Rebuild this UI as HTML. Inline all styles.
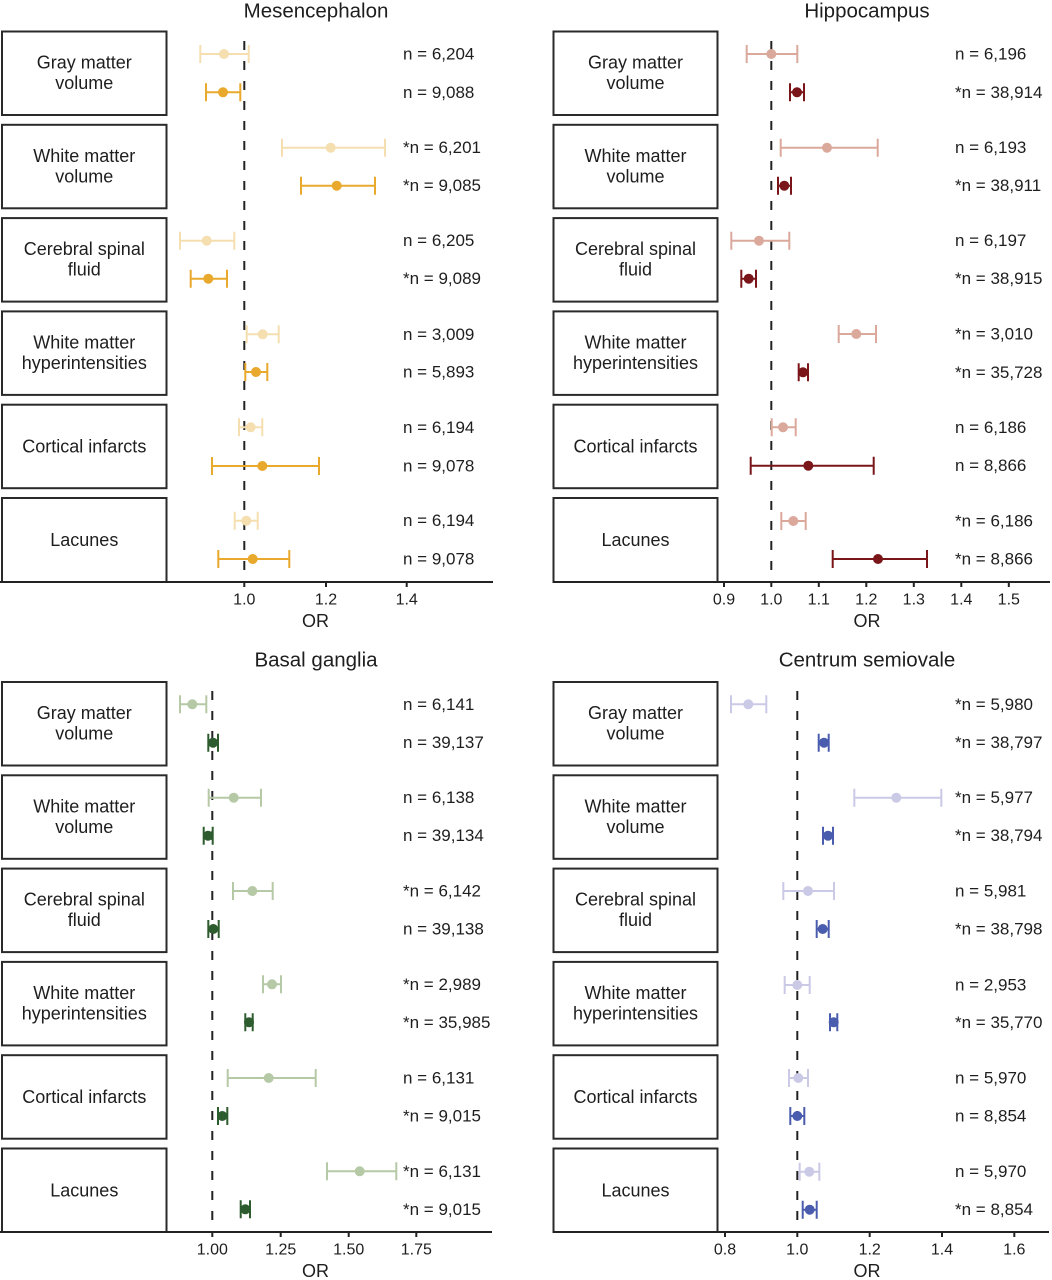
<!DOCTYPE html>
<html>
<head>
<meta charset="utf-8">
<style>
html,body{margin:0;padding:0;background:#fff;}
svg{display:block;}
text{font-family:"Liberation Sans",Arial,sans-serif;fill:#1e1e1e;}
.bl{font-size:18px;text-anchor:middle;}
.nl{font-size:17px;}
.tt{font-size:20.5px;text-anchor:middle;}
.tk{font-size:16px;text-anchor:middle;}
.or{font-size:18px;text-anchor:middle;}
</style>
</head>
<body>
<svg width="1052" height="1280" viewBox="0 0 1052 1280" xmlns="http://www.w3.org/2000/svg">
<rect width="1052" height="1280" fill="#fff"/>

<!-- Titles -->
<text class="tt" x="316" y="11" dominant-baseline="central">Mesencephalon</text>
<text class="tt" x="867" y="11" dominant-baseline="central">Hippocampus</text>
<text class="tt" x="316" y="660" dominant-baseline="central">Basal ganglia</text>
<text class="tt" x="867" y="660" dominant-baseline="central">Centrum semiovale</text>

<!-- Boxes -->
<g fill="none" stroke="#2a2a2a" stroke-width="2">
<rect x="2" y="31.5" width="164.5" height="83.5"/>
<rect x="2" y="124.8" width="164.5" height="83.5"/>
<rect x="2" y="218.1" width="164.5" height="83.5"/>
<rect x="2" y="311.4" width="164.5" height="83.5"/>
<rect x="2" y="404.7" width="164.5" height="83.5"/>
<rect x="2" y="498" width="164.5" height="84"/>
<rect x="553.5" y="31.5" width="164" height="83.5"/>
<rect x="553.5" y="124.8" width="164" height="83.5"/>
<rect x="553.5" y="218.1" width="164" height="83.5"/>
<rect x="553.5" y="311.4" width="164" height="83.5"/>
<rect x="553.5" y="404.7" width="164" height="83.5"/>
<rect x="553.5" y="498" width="164" height="84"/>
<rect x="2" y="682" width="164.5" height="83.5"/>
<rect x="2" y="775.3" width="164.5" height="83.5"/>
<rect x="2" y="868.6" width="164.5" height="83.5"/>
<rect x="2" y="961.9" width="164.5" height="83.5"/>
<rect x="2" y="1055.2" width="164.5" height="83.5"/>
<rect x="2" y="1148.5" width="164.5" height="83.5"/>
<rect x="553.5" y="682" width="164" height="83.5"/>
<rect x="553.5" y="775.3" width="164" height="83.5"/>
<rect x="553.5" y="868.6" width="164" height="83.5"/>
<rect x="553.5" y="961.9" width="164" height="83.5"/>
<rect x="553.5" y="1055.2" width="164" height="83.5"/>
<rect x="553.5" y="1148.5" width="164" height="83.5"/>
</g>

<!-- Box labels -->
<g class="bl">
<text class="bl" x="84.3" y="62.5" dominant-baseline="central">Gray matter</text>
<text class="bl" x="84.3" y="83" dominant-baseline="central">volume</text>
<text class="bl" x="84.3" y="155.8" dominant-baseline="central">White matter</text>
<text class="bl" x="84.3" y="176.3" dominant-baseline="central">volume</text>
<text class="bl" x="84.3" y="249.1" dominant-baseline="central">Cerebral spinal</text>
<text class="bl" x="84.3" y="269.6" dominant-baseline="central">fluid</text>
<text class="bl" x="84.3" y="342.4" dominant-baseline="central">White matter</text>
<text class="bl" x="84.3" y="362.9" dominant-baseline="central">hyperintensities</text>
<text class="bl" x="84.3" y="446.5" dominant-baseline="central">Cortical infarcts</text>
<text class="bl" x="84.3" y="539.8" dominant-baseline="central">Lacunes</text>

<text class="bl" x="635.5" y="62.5" dominant-baseline="central">Gray matter</text>
<text class="bl" x="635.5" y="83" dominant-baseline="central">volume</text>
<text class="bl" x="635.5" y="155.8" dominant-baseline="central">White matter</text>
<text class="bl" x="635.5" y="176.3" dominant-baseline="central">volume</text>
<text class="bl" x="635.5" y="249.1" dominant-baseline="central">Cerebral spinal</text>
<text class="bl" x="635.5" y="269.6" dominant-baseline="central">fluid</text>
<text class="bl" x="635.5" y="342.4" dominant-baseline="central">White matter</text>
<text class="bl" x="635.5" y="362.9" dominant-baseline="central">hyperintensities</text>
<text class="bl" x="635.5" y="446.5" dominant-baseline="central">Cortical infarcts</text>
<text class="bl" x="635.5" y="539.8" dominant-baseline="central">Lacunes</text>

<text class="bl" x="84.3" y="713" dominant-baseline="central">Gray matter</text>
<text class="bl" x="84.3" y="733.5" dominant-baseline="central">volume</text>
<text class="bl" x="84.3" y="806.3" dominant-baseline="central">White matter</text>
<text class="bl" x="84.3" y="826.8" dominant-baseline="central">volume</text>
<text class="bl" x="84.3" y="899.6" dominant-baseline="central">Cerebral spinal</text>
<text class="bl" x="84.3" y="920.1" dominant-baseline="central">fluid</text>
<text class="bl" x="84.3" y="992.9" dominant-baseline="central">White matter</text>
<text class="bl" x="84.3" y="1013.4" dominant-baseline="central">hyperintensities</text>
<text class="bl" x="84.3" y="1097" dominant-baseline="central">Cortical infarcts</text>
<text class="bl" x="84.3" y="1190.3" dominant-baseline="central">Lacunes</text>

<text class="bl" x="635.5" y="713" dominant-baseline="central">Gray matter</text>
<text class="bl" x="635.5" y="733.5" dominant-baseline="central">volume</text>
<text class="bl" x="635.5" y="806.3" dominant-baseline="central">White matter</text>
<text class="bl" x="635.5" y="826.8" dominant-baseline="central">volume</text>
<text class="bl" x="635.5" y="899.6" dominant-baseline="central">Cerebral spinal</text>
<text class="bl" x="635.5" y="920.1" dominant-baseline="central">fluid</text>
<text class="bl" x="635.5" y="992.9" dominant-baseline="central">White matter</text>
<text class="bl" x="635.5" y="1013.4" dominant-baseline="central">hyperintensities</text>
<text class="bl" x="635.5" y="1097" dominant-baseline="central">Cortical infarcts</text>
<text class="bl" x="635.5" y="1190.3" dominant-baseline="central">Lacunes</text>
</g>

<!-- Dashed reference lines -->
<g stroke="#222" stroke-width="2" stroke-dasharray="9 11">
<line x1="244.3" y1="41" x2="244.3" y2="582"/>
<line x1="771.3" y1="41" x2="771.3" y2="582"/>
<line x1="212.3" y1="691" x2="212.3" y2="1232"/>
<line x1="797.3" y1="691" x2="797.3" y2="1232"/>
</g>

<!-- Axes -->
<g stroke="#222" stroke-width="2" fill="none">
<path d="M0 582H493"/>
<path d="M244.3 582v5M326 582v5M406.7 582v5"/>
<path d="M553 582H1050"/>
<path d="M724 582v5M771.3 582v5M818.8 582v5M866.3 582v5M913.8 582v5M961.3 582v5M1008.8 582v5"/>
<path d="M0 1232H492"/>
<path d="M212.3 1232v5M280.7 1232v5M348.7 1232v5M416.3 1232v5"/>
<path d="M553 1232H1049"/>
<path d="M725 1232v5M797.3 1232v5M869.7 1232v5M942 1232v5M1014.3 1232v5"/>
</g>

<!-- Tick labels -->
<g>
<text class="tk" x="244.3" y="600" dominant-baseline="central">1.0</text>
<text class="tk" x="326" y="600" dominant-baseline="central">1.2</text>
<text class="tk" x="406.7" y="600" dominant-baseline="central">1.4</text>
<text class="or" x="315.5" y="621" dominant-baseline="central">OR</text>

<text class="tk" x="724" y="600" dominant-baseline="central">0.9</text>
<text class="tk" x="771.3" y="600" dominant-baseline="central">1.0</text>
<text class="tk" x="818.8" y="600" dominant-baseline="central">1.1</text>
<text class="tk" x="866.3" y="600" dominant-baseline="central">1.2</text>
<text class="tk" x="913.8" y="600" dominant-baseline="central">1.3</text>
<text class="tk" x="961.3" y="600" dominant-baseline="central">1.4</text>
<text class="tk" x="1008.8" y="600" dominant-baseline="central">1.5</text>
<text class="or" x="867" y="621" dominant-baseline="central">OR</text>

<text class="tk" x="212.3" y="1250" dominant-baseline="central">1.00</text>
<text class="tk" x="280.7" y="1250" dominant-baseline="central">1.25</text>
<text class="tk" x="348.7" y="1250" dominant-baseline="central">1.50</text>
<text class="tk" x="416.3" y="1250" dominant-baseline="central">1.75</text>
<text class="or" x="315.5" y="1271" dominant-baseline="central">OR</text>

<text class="tk" x="725" y="1250" dominant-baseline="central">0.8</text>
<text class="tk" x="797.3" y="1250" dominant-baseline="central">1.0</text>
<text class="tk" x="869.7" y="1250" dominant-baseline="central">1.2</text>
<text class="tk" x="942" y="1250" dominant-baseline="central">1.4</text>
<text class="tk" x="1014.3" y="1250" dominant-baseline="central">1.6</text>
<text class="or" x="867" y="1271" dominant-baseline="central">OR</text>
</g>

<!-- Mesencephalon light -->
<g stroke="#f5dfb0" stroke-width="2" fill="none">
<path d="M200.3 54H248.7M200.3 45V63M248.7 45V63"/>
<path d="M282 147.7H385M282 138.7V156.7M385 138.7V156.7"/>
<path d="M180 240.7H234.3M180 231.7V249.7M234.3 231.7V249.7"/>
<path d="M246.7 334.3H278.7M246.7 325.3V343.3M278.7 325.3V343.3"/>
<path d="M239 427.3H262.3M239 418.3V436.3M262.3 418.3V436.3"/>
<path d="M234.7 520.7H257.7M234.7 511.7V529.7M257.7 511.7V529.7"/>
</g>
<g fill="#f5dfb0">
<circle cx="224" cy="54" r="5"/>
<circle cx="330.7" cy="147.7" r="5"/>
<circle cx="206.7" cy="240.7" r="5"/>
<circle cx="262.7" cy="334.3" r="5"/>
<circle cx="250.7" cy="427.3" r="5"/>
<circle cx="246.3" cy="520.7" r="5"/>
</g>
<!-- Mesencephalon dark -->
<g stroke="#e8a92c" stroke-width="2" fill="none">
<path d="M206 92.3H240.3M206 83.3V101.3M240.3 83.3V101.3"/>
<path d="M301 185.7H375M301 176.7V194.7M375 176.7V194.7"/>
<path d="M190.7 278.7H227M190.7 269.7V287.7M227 269.7V287.7"/>
<path d="M245.3 372H267.3M245.3 363V381M267.3 363V381"/>
<path d="M212 466H319M212 457V475M319 457V475"/>
<path d="M218.3 559H289.3M218.3 550V568M289.3 550V568"/>
</g>
<g fill="#e8a92c">
<circle cx="223" cy="92.3" r="5"/>
<circle cx="336.7" cy="185.7" r="5"/>
<circle cx="208.3" cy="278.7" r="5"/>
<circle cx="256" cy="372" r="5"/>
<circle cx="262.3" cy="466" r="5"/>
<circle cx="252.7" cy="559" r="5"/>
</g>

<!-- Hippocampus light -->
<g stroke="#dba99c" stroke-width="2" fill="none">
<path d="M746.7 54H797.3M746.7 45V63M797.3 45V63"/>
<path d="M780.7 147.7H877.7M780.7 138.7V156.7M877.7 138.7V156.7"/>
<path d="M731.3 240.7H789.3M731.3 231.7V249.7M789.3 231.7V249.7"/>
<path d="M838.7 334H876M838.7 325V343M876 325V343"/>
<path d="M771.7 427.3H795.7M771.7 418.3V436.3M795.7 418.3V436.3"/>
<path d="M781.3 521H805.7M781.3 512V530M805.7 512V530"/>
</g>
<g fill="#dba99c">
<circle cx="771.3" cy="54" r="5"/>
<circle cx="827" cy="147.7" r="5"/>
<circle cx="759" cy="240.7" r="5"/>
<circle cx="856.3" cy="334" r="5"/>
<circle cx="783" cy="427.3" r="5"/>
<circle cx="793.3" cy="521" r="5"/>
</g>
<!-- Hippocampus dark -->
<g stroke="#7a1619" stroke-width="2" fill="none">
<path d="M790 92.3H804M790 83.3V101.3M804 83.3V101.3"/>
<path d="M778 185.7H791M778 176.7V194.7M791 176.7V194.7"/>
<path d="M741.3 278.7H756M741.3 269.7V287.7M756 269.7V287.7"/>
<path d="M798.7 372.3H808M798.7 363.3V381.3M808 363.3V381.3"/>
<path d="M750.7 465.7H873.7M750.7 456.7V474.7M873.7 456.7V474.7"/>
<path d="M832.7 559H927M832.7 550V568M927 550V568"/>
</g>
<g fill="#7a1619">
<circle cx="797" cy="92.3" r="5"/>
<circle cx="784.3" cy="185.7" r="5"/>
<circle cx="748.7" cy="278.7" r="5"/>
<circle cx="803" cy="372.3" r="5"/>
<circle cx="808.3" cy="465.7" r="5"/>
<circle cx="878" cy="559" r="5"/>
</g>

<!-- Basal ganglia light -->
<g stroke="#b6c9a6" stroke-width="2" fill="none">
<path d="M180 704.3H206.3M180 695.3V713.3M206.3 695.3V713.3"/>
<path d="M208.7 797.7H261M208.7 788.7V806.7M261 788.7V806.7"/>
<path d="M233 891H272.7M233 882V900M272.7 882V900"/>
<path d="M263 984.3H281M263 975.3V993.3M281 975.3V993.3"/>
<path d="M227.7 1078H315.7M227.7 1069V1087M315.7 1069V1087"/>
<path d="M327 1171.3H396.3M327 1162.3V1180.3M396.3 1162.3V1180.3"/>
</g>
<g fill="#b6c9a6">
<circle cx="192.3" cy="704.3" r="5"/>
<circle cx="233.7" cy="797.7" r="5"/>
<circle cx="252.3" cy="891" r="5"/>
<circle cx="272" cy="984.3" r="5"/>
<circle cx="268.7" cy="1078" r="5"/>
<circle cx="359.7" cy="1171.3" r="5"/>
</g>
<!-- Basal ganglia dark -->
<g stroke="#2d5c2e" stroke-width="2" fill="none">
<path d="M208.3 742.7H218M208.3 733.7V751.7M218 733.7V751.7"/>
<path d="M203.7 835.7H212.7M203.7 826.7V844.7M212.7 826.7V844.7"/>
<path d="M208.3 929H218.7M208.3 920V938M218.7 920V938"/>
<path d="M245.3 1022.3H252.7M245.3 1013.3V1031.3M252.7 1013.3V1031.3"/>
<path d="M218 1116H227.3M218 1107V1125M227.3 1107V1125"/>
<path d="M240.7 1209.3H250M240.7 1200.3V1218.3M250 1200.3V1218.3"/>
</g>
<g fill="#2d5c2e">
<circle cx="213" cy="742.7" r="5"/>
<circle cx="208" cy="835.7" r="5"/>
<circle cx="213.3" cy="929" r="5"/>
<circle cx="249" cy="1022.3" r="5"/>
<circle cx="222.3" cy="1116" r="5"/>
<circle cx="245.3" cy="1209.3" r="5"/>
</g>

<!-- Centrum semiovale light -->
<g stroke="#cac9e6" stroke-width="2" fill="none">
<path d="M731 704.3H766.3M731 695.3V713.3M766.3 695.3V713.3"/>
<path d="M854.3 797.7H941.3M854.3 788.7V806.7M941.3 788.7V806.7"/>
<path d="M783.3 891H834M783.3 882V900M834 882V900"/>
<path d="M784.7 985H809.7M784.7 976V994M809.7 976V994"/>
<path d="M789 1078H808M789 1069V1087M808 1069V1087"/>
<path d="M799.7 1171.7H819.3M799.7 1162.7V1180.7M819.3 1162.7V1180.7"/>
</g>
<g fill="#cac9e6">
<circle cx="748.3" cy="704.3" r="5"/>
<circle cx="896.3" cy="797.7" r="5"/>
<circle cx="808" cy="891" r="5"/>
<circle cx="797.3" cy="985" r="5"/>
<circle cx="798.3" cy="1078" r="5"/>
<circle cx="809.3" cy="1171.7" r="5"/>
</g>
<!-- Centrum semiovale dark -->
<g stroke="#4a5cae" stroke-width="2" fill="none">
<path d="M818.7 742.7H828.7M818.7 733.7V751.7M828.7 733.7V751.7"/>
<path d="M823 835.7H833M823 826.7V844.7M833 826.7V844.7"/>
<path d="M816.7 929H828.7M816.7 920V938M828.7 920V938"/>
<path d="M830 1022.3H837.3M830 1013.3V1031.3M837.3 1013.3V1031.3"/>
<path d="M790.3 1116H804.3M790.3 1107V1125M804.3 1107V1125"/>
<path d="M802.7 1209.7H816.7M802.7 1200.7V1218.7M816.7 1200.7V1218.7"/>
</g>
<g fill="#4a5cae">
<circle cx="824" cy="742.7" r="5"/>
<circle cx="828" cy="835.7" r="5"/>
<circle cx="822.7" cy="929" r="5"/>
<circle cx="833.7" cy="1022.3" r="5"/>
<circle cx="797.3" cy="1116" r="5"/>
<circle cx="809.7" cy="1209.7" r="5"/>
</g>

<!-- n labels -->
<g>
<text class="nl" x="403" y="54" dominant-baseline="central">n = 6,204</text>
<text class="nl" x="403" y="92.3" dominant-baseline="central">n = 9,088</text>
<text class="nl" x="403" y="147.7" dominant-baseline="central">*n = 6,201</text>
<text class="nl" x="403" y="185.7" dominant-baseline="central">*n = 9,085</text>
<text class="nl" x="403" y="240.7" dominant-baseline="central">n = 6,205</text>
<text class="nl" x="403" y="278.7" dominant-baseline="central">*n = 9,089</text>
<text class="nl" x="403" y="334.3" dominant-baseline="central">n = 3,009</text>
<text class="nl" x="403" y="372" dominant-baseline="central">n = 5,893</text>
<text class="nl" x="403" y="427.3" dominant-baseline="central">n = 6,194</text>
<text class="nl" x="403" y="466" dominant-baseline="central">n = 9,078</text>
<text class="nl" x="403" y="520.7" dominant-baseline="central">n = 6,194</text>
<text class="nl" x="403" y="559" dominant-baseline="central">n = 9,078</text>

<text class="nl" x="955" y="54" dominant-baseline="central">n = 6,196</text>
<text class="nl" x="955" y="92.3" dominant-baseline="central">*n = 38,914</text>
<text class="nl" x="955" y="147.7" dominant-baseline="central">n = 6,193</text>
<text class="nl" x="955" y="185.7" dominant-baseline="central">*n = 38,911</text>
<text class="nl" x="955" y="240.7" dominant-baseline="central">n = 6,197</text>
<text class="nl" x="955" y="278.7" dominant-baseline="central">*n = 38,915</text>
<text class="nl" x="955" y="334" dominant-baseline="central">*n = 3,010</text>
<text class="nl" x="955" y="372.3" dominant-baseline="central">*n = 35,728</text>
<text class="nl" x="955" y="427.3" dominant-baseline="central">n = 6,186</text>
<text class="nl" x="955" y="465.7" dominant-baseline="central">n = 8,866</text>
<text class="nl" x="955" y="521" dominant-baseline="central">*n = 6,186</text>
<text class="nl" x="955" y="559" dominant-baseline="central">*n = 8,866</text>

<text class="nl" x="403" y="704.3" dominant-baseline="central">n = 6,141</text>
<text class="nl" x="403" y="742.7" dominant-baseline="central">n = 39,137</text>
<text class="nl" x="403" y="797.7" dominant-baseline="central">n = 6,138</text>
<text class="nl" x="403" y="835.7" dominant-baseline="central">n = 39,134</text>
<text class="nl" x="403" y="891" dominant-baseline="central">*n = 6,142</text>
<text class="nl" x="403" y="929" dominant-baseline="central">n = 39,138</text>
<text class="nl" x="403" y="984.3" dominant-baseline="central">*n = 2,989</text>
<text class="nl" x="403" y="1022.3" dominant-baseline="central">*n = 35,985</text>
<text class="nl" x="403" y="1078" dominant-baseline="central">n = 6,131</text>
<text class="nl" x="403" y="1116" dominant-baseline="central">*n = 9,015</text>
<text class="nl" x="403" y="1171.3" dominant-baseline="central">*n = 6,131</text>
<text class="nl" x="403" y="1209.3" dominant-baseline="central">*n = 9,015</text>

<text class="nl" x="955" y="704.3" dominant-baseline="central">*n = 5,980</text>
<text class="nl" x="955" y="742.7" dominant-baseline="central">*n = 38,797</text>
<text class="nl" x="955" y="797.7" dominant-baseline="central">*n = 5,977</text>
<text class="nl" x="955" y="835.7" dominant-baseline="central">*n = 38,794</text>
<text class="nl" x="955" y="891" dominant-baseline="central">n = 5,981</text>
<text class="nl" x="955" y="929" dominant-baseline="central">*n = 38,798</text>
<text class="nl" x="955" y="985" dominant-baseline="central">n = 2,953</text>
<text class="nl" x="955" y="1022.3" dominant-baseline="central">*n = 35,770</text>
<text class="nl" x="955" y="1078" dominant-baseline="central">n = 5,970</text>
<text class="nl" x="955" y="1116" dominant-baseline="central">n = 8,854</text>
<text class="nl" x="955" y="1171.7" dominant-baseline="central">n = 5,970</text>
<text class="nl" x="955" y="1209.7" dominant-baseline="central">*n = 8,854</text>
</g>
</svg>
</body>
</html>
